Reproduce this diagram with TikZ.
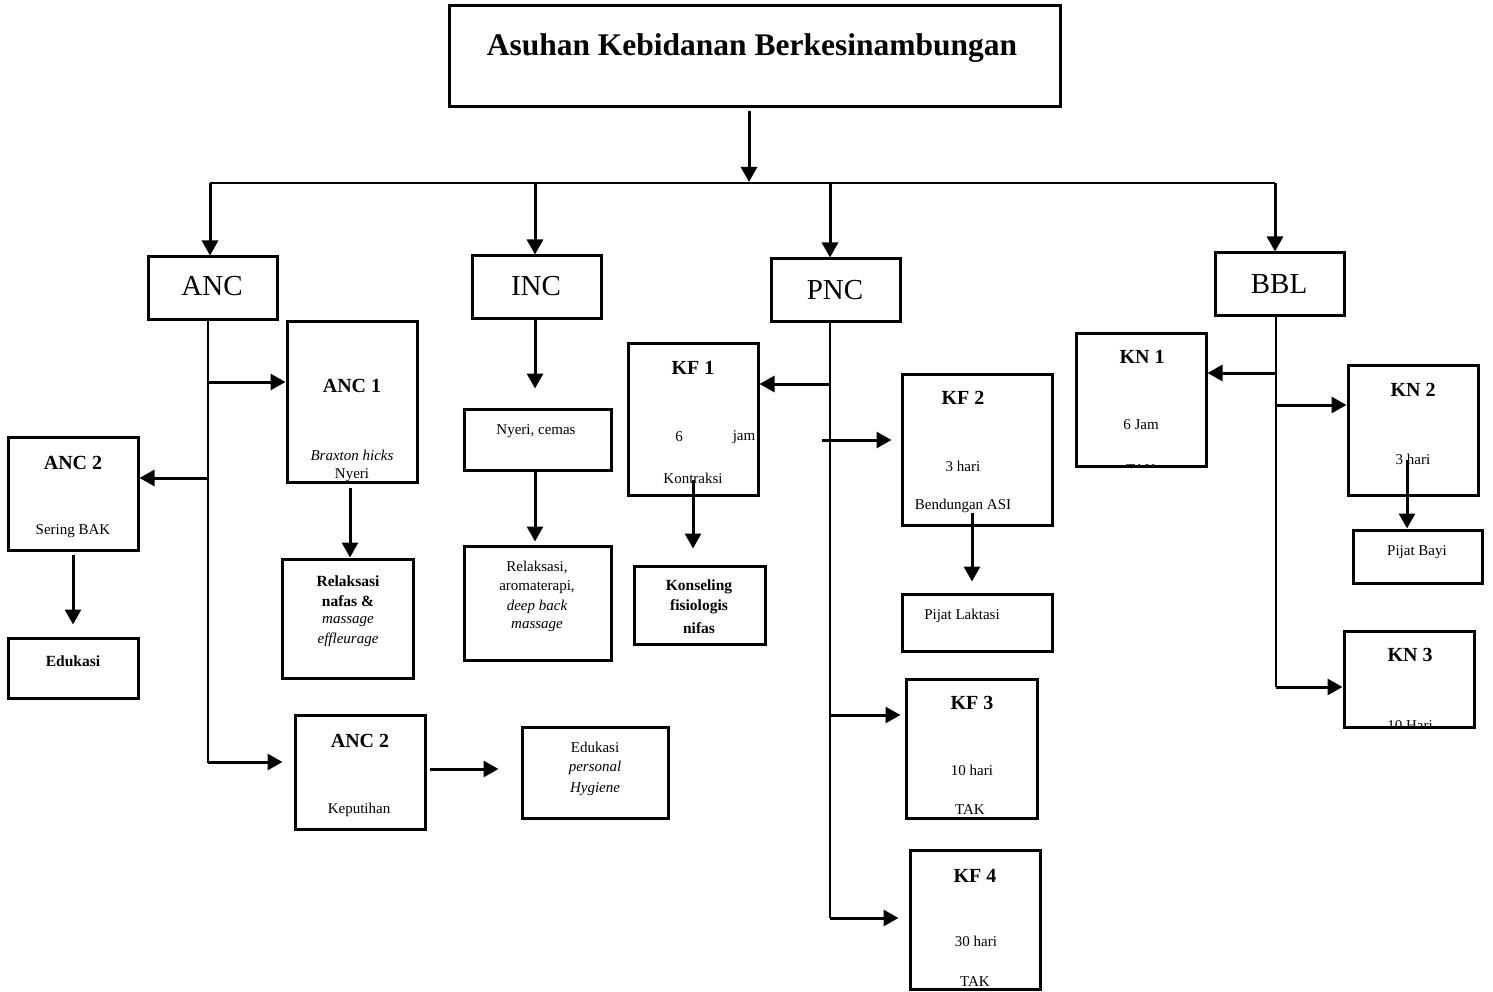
\documentclass[tikz,border=0pt]{standalone}
\usepackage{fontspec}
\setmainfont{Liberation Serif}
\usetikzlibrary{arrows.meta}
\newcommand\bx[5]{\node[box,minimum width={(#4)-(#2)},minimum height={(#5)-(#3)}] (#1) at ({((#2)+(#4))/2},{((#3)+(#5))/2}) {};}
\begin{document}
\begin{tikzpicture}[x=1pt,y=-1pt,
 box/.style={draw,line width=3pt,inner sep=0pt},
 arr/.style={line width=3pt,-{Triangle[length=15pt,width=16pt]}},
 trunk/.style={line width=1.8pt},
 tx/.style={inner sep=0pt,font=\fontsize{15}{18}\selectfont},
 ti/.style={inner sep=0pt,font=\fontsize{15}{18}\selectfont\itshape},
 tb/.style={inner sep=0pt,font=\fontsize{15.5}{18}\selectfont\bfseries},
 hd/.style={inner sep=0pt,font=\fontsize{20}{24}\selectfont\bfseries},
 big/.style={inner sep=0pt,font=\fontsize{29}{34}\selectfont},
]
\useasboundingbox (0,0) rectangle (1493,992);

% ---------- boxes ----------
\bx{title}{449}{6}{1060}{107}
\bx{ANC}{148}{257}{277}{319}
\bx{INC}{472}{256}{601}{318}
\bx{PNC}{771}{259}{900}{321}
\bx{BBL}{1215}{253}{1344}{315}
\bx{ancA}{287}{321}{417}{482}
\bx{ancB}{8}{437}{138}{550}
\bx{edu}{8}{638}{138}{698}
\bx{relA}{282}{559}{413}{678}
\bx{ancC}{295}{715}{425}{829}
\bx{eduP}{522}{727}{668}{818}
\bx{nyeri}{464}{409}{611}{470}
\bx{relB}{464}{546}{611}{660}
\bx{kfA}{628}{343}{758}{495}
\bx{kons}{634}{566}{765}{644}
\bx{kfB}{902}{374}{1052}{525}
\bx{pijL}{902}{594}{1052}{651}
\bx{kfC}{906}{679}{1037}{818}
\bx{kfD}{910}{850}{1040}{989}
\bx{knA}{1076}{333}{1206}{466}
\bx{knB}{1348}{365}{1478}{495}
\bx{pijB}{1353}{530}{1482}{583}
\bx{knC}{1344}{631}{1474}{727}

% ---------- texts ----------
\node[inner sep=0pt,font=\fontsize{31.5}{36}\selectfont\bfseries] (tT) at (752,48) {Asuhan Kebidanan Berkesinambungan};
\node[big] (tANC) at (212,286) {ANC};
\node[big] (tINC) at (536,286) {INC};
\node[big] (tPNC) at (835,290) {PNC};
\node[big] (tBBL) at (1279,284) {BBL};

\node[hd] (t1) at (352,386) {ANC 1};
\node[ti] (t2) at (352,455) {Braxton hicks};
\node[tx] (t3) at (352,475) {Nyeri};

\node[hd] (t4) at (73,463) {ANC 2};
\node[tx] (t5) at (73,531) {Sering BAK};
\node[tb] (t6) at (73,661) {Edukasi};

\node[tb] (t7) at (348,581) {Relaksasi};
\node[tb] (t8) at (348,601) {nafas \&};
\node[ti] (t9) at (348,622) {massage};
\node[ti] (t10) at (348,640) {effleurage};

\node[hd] (t11) at (360,741) {ANC 2};
\node[tx] (t12) at (359,810) {Keputihan};
\node[tx] (t13) at (595,747) {Edukasi};
\node[ti] (t14) at (595,768) {personal};
\node[ti] (t15) at (595,789) {Hygiene};

\node[tx] (t16) at (536,431) {Nyeri, cemas};
\node[tx] (t17) at (537,567) {Relaksasi,};
\node[tx] (t18) at (537,587) {aromaterapi,};
\node[ti] (t19) at (537,607) {deep back};
\node[ti] (t20) at (537,627) {massage};

\node[hd] (t21) at (693,368) {KF 1};
\node[tx] (t22) at (679,437) {6};
\node[tx] (t23) at (744,437) {jam};
\node[tx] (t24) at (693,478) {Kontraksi};
\node[tb] (t25) at (699,587) {Konseling};
\node[tb] (t26) at (699,607) {fisiologis};
\node[tb] (t27) at (699,628) {nifas};

\node[hd] (t28) at (963,398) {KF 2};
\node[tx] (t29) at (963,466) {3 hari};
\node[tx] (t30) at (963,506) {Bendungan ASI};
\node[tx] (t31) at (962,616) {Pijat Laktasi};

\node[hd] (t32) at (972,703) {KF 3};
\node[tx] (t33) at (972,770) {10 hari};
\node[tx] (t34) at (970,810) {TAK};
\node[hd] (t35) at (975,876) {KF 4};
\node[tx] (t36) at (976,941) {30 hari};
\node[tx] (t37) at (975,982) {TAK};

\node[hd] (t38) at (1142,357) {KN 1};
\node[tx] (t39) at (1141,425) {6 Jam};
\begin{scope}
\clip (knA.south west) rectangle (knA.north east);
\node[tx] (t40) at (1141,469.5) {TAK};
\end{scope}
\node[hd] (t41) at (1413,390) {KN 2};
\node[tx] (t42) at (1413,459) {3 hari};
\node[tx] (t43) at (1417,552) {Pijat Bayi};
\node[hd] (t44) at (1410,655) {KN 3};
\begin{scope}
\clip (knC.south west) rectangle (knC.north east);
\node[tx] (t45) at (1410,726) {10 Hari};
\end{scope}

% ---------- connectors ----------
\coordinate (busL) at (210,183);
\coordinate (busR) at (1275,183);
\coordinate (busI) at (535,183);
\coordinate (busP) at (830,183);
\coordinate (busT) at (749,183);
\coordinate (tS) at (749,111);
\draw[arr,shorten >=1pt] (tS) -- (busT);
\draw[trunk] (busL) -- (busR);
\draw[arr] (busL) -- (busL |- ANC.north);
\draw[arr] (busI) -- (busI |- INC.north);
\draw[arr] (busP) -- (busP |- PNC.north);
\draw[arr] (busR) -- (busR |- BBL.north);

% ANC trunk
\coordinate (aT) at (208,319);
\coordinate (aB) at (208,763);
\coordinate (a1) at (208,382);
\coordinate (a2) at (208,478);
\coordinate (a3) at (208,762);
\draw[trunk] (aT) -- (aB);
\draw[arr] (a1) -- (a1 -| ancA.west);
\draw[arr] (a2) -- (a2 -| ancB.east);
\draw[arr,shorten >=11pt] (a3) -- (a3 -| ancC.west);
\coordinate (c1) at (350,488);
\draw[arr] (c1) -- (c1 |- relA.north);
\coordinate (c2) at (73,555);
\draw[arr,shorten >=12pt] (c2) -- (c2 |- edu.north);
\coordinate (c3) at (430,769);
\draw[arr,shorten >=22pt] (c3) -- (c3 -| eduP.west);

% INC
\coordinate (iT) at (535,318);
\draw[arr,shorten >=19pt] (iT) -- (iT |- nyeri.north);
\coordinate (iM) at (535,470);
\draw[arr,shorten >=3pt] (iM) -- (iM |- relB.north);

% PNC trunk
\coordinate (pT) at (830,321);
\coordinate (pB) at (830,918);
\draw[trunk] (pT) -- (pB);
\coordinate (p1) at (830,384);
\coordinate (p2) at (822,440);
\coordinate (p3) at (830,715);
\coordinate (p4) at (830,918);
\draw[arr] (p1) -- (p1 -| kfA.east);
\draw[arr,shorten >=9pt] (p2) -- (p2 -| kfB.west);
\draw[arr,shorten >=4pt] (p3) -- (p3 -| kfC.west);
\draw[arr,shorten >=10pt] (p4) -- (p4 -| kfD.west);
\coordinate (k1) at (693,480);
\draw[arr,shorten >=16pt] (k1) -- (k1 |- kons.north);
\coordinate (k2) at (972,513);
\draw[arr,shorten >=11pt] (k2) -- (k2 |- pijL.north);

% BBL trunk
\coordinate (bT) at (1276,315);
\coordinate (bB) at (1276,687);
\draw[trunk] (bT) -- (bB);
\coordinate (n1) at (1276,373);
\coordinate (n2) at (1276,405);
\coordinate (n3) at (1276,687);
\draw[arr] (n1) -- (n1 -| knA.east);
\draw[arr] (n2) -- (n2 -| knB.west);
\draw[arr] (n3) -- (n3 -| knC.west);
\coordinate (k3) at (1407,460);
\draw[arr] (k3) -- (k3 |- pijB.north);
\end{tikzpicture}
\end{document}
